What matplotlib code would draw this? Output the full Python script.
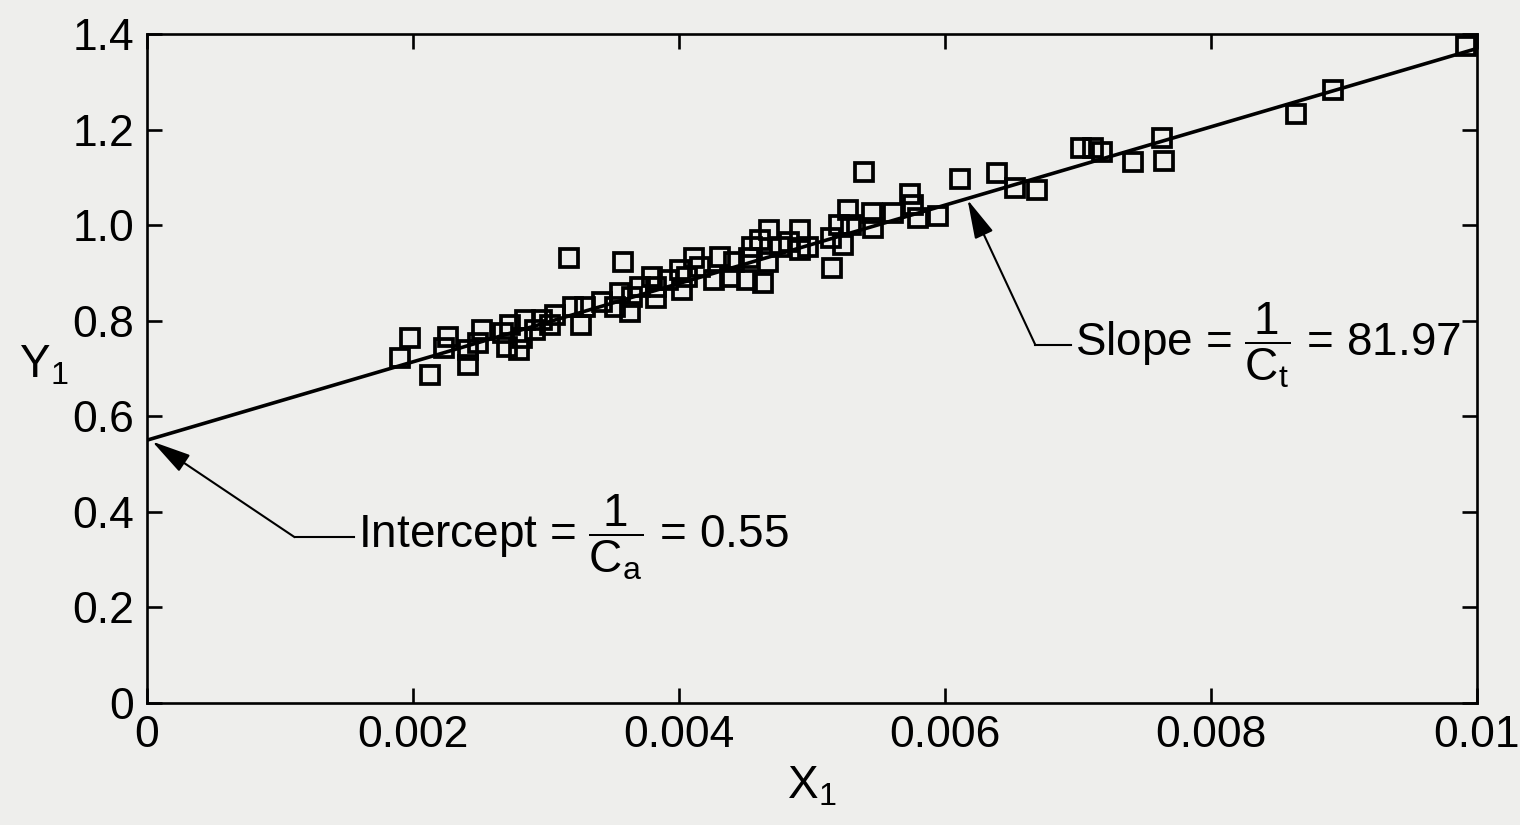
import matplotlib.pyplot as plt
import numpy as np

plt.rcParams['font.family'] = ['Liberation Sans', 'DejaVu Sans']
plt.rcParams['mathtext.fontset'] = 'custom'
plt.rcParams['mathtext.rm'] = 'Liberation Sans'
plt.rcParams['mathtext.it'] = 'Liberation Sans:italic'

# measured points (X1, Y1)
x1 = [0.00190, 0.00198, 0.00213, 0.00223, 0.00226, 0.00241, 0.00241, 0.00249,
      0.00252, 0.00268, 0.00271, 0.00273, 0.00280, 0.00282, 0.00284, 0.00292,
      0.00297, 0.00303, 0.00307, 0.00317, 0.00320, 0.00326, 0.00329, 0.00342,
      0.00352, 0.00356, 0.00358, 0.00363, 0.00365, 0.00371, 0.00380, 0.00383,
      0.00383, 0.00392, 0.00401, 0.00402, 0.00406, 0.00411, 0.00416, 0.00426,
      0.00431, 0.00438, 0.00441, 0.00451, 0.00453, 0.00455, 0.00461, 0.00463,
      0.00467, 0.00468, 0.00476, 0.00483, 0.00491, 0.00491, 0.00497, 0.00514,
      0.00515, 0.00520, 0.00523, 0.00527, 0.00529, 0.00539, 0.00545, 0.00546,
      0.00561, 0.00574, 0.00576, 0.00580, 0.00595, 0.00611, 0.00639, 0.00653,
      0.00669, 0.00702, 0.00711, 0.00718, 0.00741, 0.00763, 0.00765, 0.00864,
      0.00892, 0.00992]
y1 = [0.722, 0.764, 0.686, 0.743, 0.766, 0.707, 0.738, 0.753,
      0.780, 0.774, 0.745, 0.791, 0.738, 0.764, 0.801, 0.780,
      0.801, 0.791, 0.812, 0.931, 0.828, 0.791, 0.828, 0.839,
      0.828, 0.858, 0.923, 0.818, 0.849, 0.870, 0.891, 0.870,
      0.847, 0.885, 0.906, 0.864, 0.891, 0.931, 0.912, 0.885,
      0.933, 0.891, 0.923, 0.885, 0.931, 0.954, 0.969, 0.879,
      0.923, 0.990, 0.954, 0.964, 0.990, 0.948, 0.954, 0.973,
      0.910, 1.000, 0.958, 1.031, 1.000, 1.111, 1.025, 0.994,
      1.025, 1.065, 1.042, 1.015, 1.019, 1.096, 1.109, 1.077,
      1.073, 1.161, 1.161, 1.153, 1.132, 1.182, 1.134, 1.232,
      1.282, 1.374]

intercept = 0.55
slope = 81.97
fit_x = [0.0, 0.01]

xticks = [0, 0.002, 0.004, 0.006, 0.008, 0.01]
xticklabels = ['0', '0.002', '0.004', '0.006', '0.008', '0.01']
yticks = [0, 0.2, 0.4, 0.6, 0.8, 1.0, 1.2, 1.4]
yticklabels = ['0', '0.2', '0.4', '0.6', '0.8', '1.0', '1.2', '1.4']

bg = '#eeeeec'
fig = plt.figure(figsize=(15.2, 8.25), dpi=100, facecolor=bg)
ax = fig.add_axes([0.0967, 0.1479, 0.875, 0.8109], facecolor=bg)

fx = np.array(fit_x)
ax.plot(fx, intercept + slope * fx, color='black', lw=2.6, zorder=2)
ax.plot(x1, y1, ls='none', marker='s', ms=12.5, mfc='none', mec='black',
        mew=2.7, zorder=3)

ax.set_xlim(0, 0.01)
ax.set_ylim(0, 1.4)
ax.set_xticks(xticks)
ax.set_xticklabels(xticklabels)
ax.set_yticks(yticks)
ax.set_yticklabels(yticklabels)
ax.tick_params(direction='in', length=11, width=1.9, top=True, right=True,
               labelsize=32)
ax.tick_params(axis='x', pad=9)
ax.tick_params(axis='y', pad=9)
for s in ax.spines.values():
    s.set_linewidth(1.9)

ax.set_xlabel(r'$\mathrm{X}_1$', fontsize=33)
ax.xaxis.set_label_coords(0.5, -0.092)
ax.set_ylabel(r'$\mathrm{Y}_1$', fontsize=33, rotation=0, va='center')
ax.yaxis.set_label_coords(-0.078, 0.505)

# annotations
aprops = dict(arrowstyle='-|>,head_length=1.1,head_width=0.28',
              mutation_scale=22, color='black', lw=1.5, shrinkA=0, shrinkB=0)

ax.plot([0.00111, 0.00156], [0.347, 0.347], color='black', lw=1.5)
ax.annotate('', xy=(0.00004, 0.547), xytext=(0.00111, 0.347), arrowprops=aprops)
ax.text(0.00159, 0.347, r'Intercept = $\dfrac{\mathrm{1}}{\mathrm{C_a}}$ = 0.55',
        fontsize=33, va='center', ha='left')

ax.plot([0.00668, 0.00695], [0.749, 0.749], color='black', lw=1.5)
ax.annotate('', xy=(0.00617, 1.053), xytext=(0.00668, 0.749), arrowprops=aprops)
ax.text(0.00698, 0.749, r'Slope = $\dfrac{\mathrm{1}}{\mathrm{C_t}}$ = 81.97',
        fontsize=33, va='center', ha='left')

fig.savefig('out.png', dpi=100, facecolor=bg)
